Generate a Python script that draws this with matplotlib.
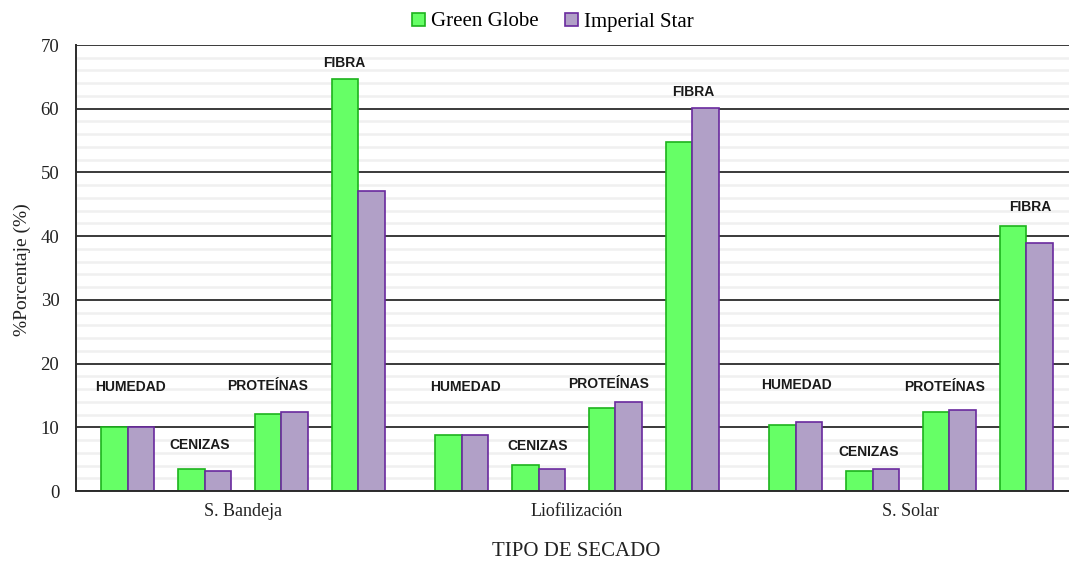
import matplotlib
matplotlib.use("Agg")
import matplotlib.pyplot as plt
from matplotlib.ticker import MultipleLocator
from matplotlib.patches import Patch

# --- data -------------------------------------------------------------
groups = ["S. Bandeja", "Liofilización", "S. Solar"]
components = ["HUMEDAD", "CENIZAS", "PROTEÍNAS", "FIBRA"]
series_names = ["Green Globe", "Imperial Star"]

green_globe = [
    [10.0, 3.4, 12.1, 64.7],   # S. Bandeja
    [8.8, 4.1, 13.0, 54.8],    # Liofilización
    [10.4, 3.1, 12.4, 41.6],   # S. Solar
]
imperial_star = [
    [10.0, 3.1, 12.4, 47.1],
    [8.8, 3.5, 14.0, 60.1],
    [10.9, 3.4, 12.7, 39.0],
]

# label placement (y in data units, x shift in group-width units)
label_y = [
    [16.3, 7.2, 16.5, 67.2],
    [16.3, 7.1, 16.8, 62.6],
    [16.6, 6.1, 16.3, 44.6],
]
label_dx = [
    [0.008, -0.015, -0.042, -0.042],
    [0.012, -0.003, -0.021, 0.003],
    [0.003, -0.012, -0.015, 0.012],
]

# --- style ------------------------------------------------------------
GREEN_FACE, GREEN_EDGE = "#66FF66", "#1DB31D"
PURPLE_FACE, PURPLE_EDGE = "#B1A0C7", "#6A2A9E"
SERIF = ["Liberation Serif", "DejaVu Serif"]
SANS = ["Liberation Sans", "DejaVu Sans"]

fig = plt.figure(figsize=(10.69, 5.62), dpi=100)
ax = fig.add_axes([76 / 1069, 71 / 562, 1 - 76 / 1069, 446 / 562])

slot = 0.2305        # spacing between component pairs inside a group
bar_w = 0.078        # single bar width

for g, grp in enumerate(groups):
    for k, comp in enumerate(components):
        xc = g + 0.5 + (k - 1.5) * slot
        ax.bar(xc - bar_w / 2, green_globe[g][k], width=bar_w,
               color=GREEN_FACE, edgecolor=GREEN_EDGE, linewidth=1.2, zorder=3)
        ax.bar(xc + bar_w / 2, imperial_star[g][k], width=bar_w,
               color=PURPLE_FACE, edgecolor=PURPLE_EDGE, linewidth=1.2, zorder=3)
        ax.text(xc + label_dx[g][k], label_y[g][k], comp, ha="center", va="center",
                fontsize=10, fontweight="bold", family=SANS, color="#1a1a1a", zorder=4)

ax.set_xlim(0, 993 / 334)
ax.set_ylim(0, 70)

ax.yaxis.set_major_locator(MultipleLocator(10))
ax.yaxis.set_minor_locator(MultipleLocator(2))
ax.grid(which="major", axis="y", color="#2b2b2b", linewidth=1.3, zorder=1)
ax.grid(which="minor", axis="y", color="#F0F0F0", linewidth=1.8, zorder=0)
ax.tick_params(axis="y", which="both", length=0, pad=12)
ax.tick_params(axis="x", length=0)
for lbl in ax.get_yticklabels():
    lbl.set_family(SERIF)
    lbl.set_fontsize(13.5)
    lbl.set_color("#222222")

ax.set_xticks([g + 0.5 for g in range(len(groups))])
ax.set_xticklabels(groups, family=SERIF, fontsize=13, color="#222222")
ax.tick_params(axis="x", pad=9)

for side in ["top", "right"]:
    ax.spines[side].set_visible(False)
ax.spines["left"].set_color("#2b2b2b")
ax.spines["left"].set_linewidth(1.4)
ax.spines["bottom"].set_color("#2b2b2b")
ax.spines["bottom"].set_linewidth(1.4)
ax.spines["left"].set_zorder(5)
ax.spines["bottom"].set_zorder(5)

fig.text(22 / 1069, 1 - 270 / 562, "%Porcentaje (%)", rotation=90, ha="center",
         va="center", family=SERIF, fontsize=14, color="#222222")
fig.text(576 / 1069, 1 - 551 / 562, "TIPO DE SECADO", ha="center", va="center",
         family=SERIF, fontsize=15, color="#222222")

handles = [
    Patch(facecolor=GREEN_FACE, edgecolor=GREEN_EDGE, linewidth=1.2),
    Patch(facecolor=PURPLE_FACE, edgecolor=PURPLE_EDGE, linewidth=1.2),
]
fig.legend(handles, series_names, loc="center", bbox_to_anchor=(553 / 1069, 1 - 22 / 562),
           ncol=2, frameon=False, prop={"family": SERIF, "size": 15},
           handlelength=0.6, handleheight=0.6, handletextpad=0.3, columnspacing=1.3)

fig.savefig("out.png", dpi=100, facecolor="white")
